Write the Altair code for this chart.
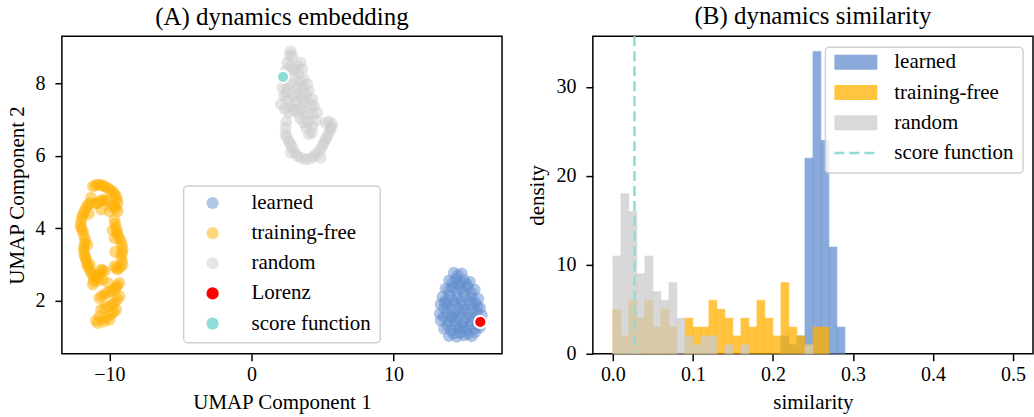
import altair as alt
import pandas as pd

FONT = "Liberation Serif"

# ---------------- (A) embedding data ----------------
learned_x = [14.24, 14.80, 13.91, 14.43, 14.97, 15.38, 13.66, 14.15, 14.70, 15.22, 15.72,
             13.44, 13.97, 14.49, 15.03, 15.51, 15.97, 13.31, 13.83, 14.38, 14.88, 15.43, 15.92,
             13.25, 13.78, 14.30, 14.85, 15.35, 15.86, 16.22, 13.32, 13.85, 14.35, 14.92, 15.43,
             15.95, 13.55, 14.06, 14.60, 15.12, 15.66, 16.08, 13.90, 14.45, 14.95, 15.50,
             14.55, 15.05, 14.10, 14.65, 13.60,
             14.52, 14.15, 14.70, 15.15, 13.90, 14.45, 14.95, 15.48, 13.70, 14.22, 14.75,
             15.28, 15.75, 13.55, 14.10, 14.62, 15.60, 16.10, 13.50, 14.05, 14.60, 15.15,
             15.68, 16.15, 13.80, 14.35, 14.90, 15.40, 15.90, 14.20, 14.70, 15.25, 15.75]
learned_y = [2.77, 2.75, 2.56, 2.60, 2.57, 2.52, 2.33, 2.37, 2.34, 2.38, 2.30,
             2.10, 2.14, 2.09, 2.13, 2.08, 2.05, 1.90, 1.87, 1.92, 1.86, 1.90, 1.84,
             1.64, 1.68, 1.63, 1.67, 1.62, 1.68, 1.60, 1.45, 1.41, 1.46, 1.40, 1.44,
             1.42, 1.22, 1.18, 1.23, 1.19, 1.21, 1.25, 1.02, 1.00, 1.03, 1.01,
             2.45, 1.75, 1.55, 1.30, 1.95,
             2.70, 2.50, 2.52, 2.45, 2.28, 2.27, 2.25, 2.22, 2.02, 2.00, 1.98,
             1.99, 1.95, 1.78, 1.78, 1.76, 1.76, 1.80, 1.55, 1.52, 1.55, 1.52,
             1.52, 1.45, 1.30, 1.30, 1.28, 1.30, 1.32, 1.08, 1.10, 1.08, 1.12]

tf_x = [-11.17, -10.82, -10.47, -10.12, -9.77, -9.53, -9.42, -9.65, -10.12, -10.47, -10.82,
        -10.59, -10.00, -9.42, -11.53, -11.76, -11.95, -12.04, -11.88, -11.71, -11.76, -11.64,
        -11.53, -11.29, -11.06, -11.17, -9.65, -9.53, -9.42, -9.65, -9.18, -9.07, -9.18, -9.07,
        -9.42, -9.65, -10.59, -10.35, -10.82, -10.12, -9.30, -9.53, -9.89, -10.35, -10.71,
        -9.30, -9.65, -10.12, -9.53, -10.59, -9.89, -10.82, -10.00, -11.81,
        -10.99, -10.65, -10.30, -9.95, -9.65, -9.48, -9.55, -10.30, -10.65, -11.00, -11.35,
        -11.65, -11.86, -12.00, -11.96, -11.80, -11.74, -11.80, -11.70, -11.60, -11.41,
        -11.17, -11.10, -9.59, -9.47, -9.30, -9.12, -9.12, -9.12, -9.25, -9.53, -10.47,
        -10.70, -10.50, -9.45, -9.70, -10.10, -10.55, -9.45, -9.85, -10.35, -9.70, -10.70,
        -10.25, -10.95, -10.40,
        -11.45, -11.55, -11.40, -9.85, -9.78, -9.60, -10.85, -11.30]
tf_y = [5.16, 5.21, 5.18, 5.11, 5.02, 4.88, 4.70, 4.61, 4.75, 4.79, 4.70,
        4.52, 4.47, 4.47, 4.65, 4.47, 4.29, 4.06, 3.92, 3.69, 3.27, 3.13,
        2.95, 2.77, 2.63, 2.44, 4.24, 4.01, 3.83, 3.73, 3.64, 3.41, 3.22, 2.99,
        2.86, 2.95, 2.86, 2.81, 2.67, 2.49, 2.49, 2.35, 2.26, 2.17, 2.07,
        2.12, 1.94, 1.84, 1.75, 1.75, 1.61, 1.38, 1.47, 3.46,
        5.19, 5.20, 5.15, 5.06, 4.95, 4.79, 4.55, 4.77, 4.75, 4.68, 4.70,
        4.56, 4.38, 4.18, 3.99, 3.80, 3.57, 3.37, 3.20, 3.04, 2.86,
        2.70, 2.53, 4.13, 3.92, 3.73, 3.52, 3.31, 3.10, 2.92, 2.90, 2.83,
        2.74, 2.58, 2.42, 2.30, 2.22, 2.12, 2.03, 1.89, 1.80, 1.68, 1.56,
        1.52, 1.45, 1.42,
        4.40, 3.55, 3.00, 4.60, 3.95, 3.35, 2.55, 4.85]

rnd_x = [2.76, 2.88, 2.53, 3.46, 3.58, 3.00, 2.41, 3.00, 3.70, 3.93, 2.53, 3.23, 4.05,
         2.29, 3.00, 3.58, 4.28, 2.06, 2.76, 3.46, 4.17, 4.64, 3.93, 3.23, 2.64, 3.70,
         4.28, 4.05, 2.41, 2.41, 2.64, 2.88, 3.23, 3.82, 4.40, 4.87, 5.10, 5.34, 5.57,
         5.69, 5.22, 2.29, 2.17, 4.87, 2.76,
         2.70, 3.20, 2.75, 3.30, 3.45, 2.80, 3.60, 2.45, 3.25, 3.85, 2.55, 3.10, 3.70,
         4.40, 2.35, 2.95, 3.55, 4.30, 3.40, 3.95, 4.55, 2.45, 4.25, 2.50, 2.75, 3.05,
         3.50, 4.15, 4.62, 5.00, 5.22, 5.45, 5.60, 5.45, 3.85]
rnd_y = [8.90, 8.76, 8.58, 8.58, 8.40, 8.40, 8.35, 8.17, 8.12, 7.98, 7.89, 7.89, 7.80,
         7.66, 7.66, 7.61, 7.57, 7.43, 7.38, 7.38, 7.43, 7.20, 7.15, 7.20, 7.20, 6.92,
         6.83, 6.60, 6.78, 6.60, 6.41, 6.23, 6.00, 5.91, 6.00, 6.18, 6.37, 6.55, 6.74,
         6.88, 6.92, 8.12, 7.89, 5.95, 6.09,
         8.80, 8.50, 8.48, 8.28, 8.05, 8.00, 7.92, 7.75, 7.72, 7.70, 7.55, 7.50, 7.48,
         7.38, 7.30, 7.28, 7.25, 7.15, 7.05, 6.95, 6.98, 6.95, 6.65, 6.50, 6.32, 6.10,
         5.95, 5.93, 6.08, 6.28, 6.46, 6.65, 6.80, 6.95, 6.78]

lorenz_xy = [16.11, 1.41]
score_xy = [2.22, 8.19]

groups = ["learned", "training-free", "random", "Lorenz", "score function"]
colors = ["#628ECE", "#FFB000", "#CCCCCC", "#FF0000", "#8FDCD9"]

# ---------------- (B) similarity histogram data ----------------
bin_edges = [0.00, 0.01, 0.02, 0.03, 0.04, 0.05, 0.06, 0.07, 0.08, 0.09, 0.10,
             0.11, 0.12, 0.13, 0.14, 0.15, 0.16, 0.17, 0.18, 0.19, 0.20,
             0.21, 0.22, 0.23, 0.24, 0.25, 0.26, 0.27, 0.28, 0.29]
learned_density = [0, 0, 0, 0, 0, 0, 0, 0, 0, 0, 0, 0, 0, 0, 0, 0, 0, 0, 0, 0,
                   0, 2, 1, 2, 22, 34, 24, 12, 3]
tf_density = [5, 2, 6, 4, 6, 3, 5, 3, 0, 4, 3, 3, 6, 5, 4, 2, 4, 3, 6, 4,
              2, 8, 3, 2, 1, 3, 3, 0, 0]
random_density = [11, 18, 16, 9, 11, 7, 6, 8, 4, 2, 1, 2, 2, 0, 1, 0, 1, 0, 0, 0,
                  0, 0, 0, 0, 1, 0, 0, 0, 0]
score_similarity = [0.027]

hist_series = ["learned", "training-free", "random"]
hist_colors = ["#628ECE", "#FFB000", "#CCCCCC"]

# ---------------- build tables ----------------
emb = pd.DataFrame({
    "x": learned_x + tf_x + rnd_x,
    "y": learned_y + tf_y + rnd_y,
    "group": ["learned"] * len(learned_x) + ["training-free"] * len(tf_x) + ["random"] * len(rnd_x),
})
special = pd.DataFrame({
    "x": [lorenz_xy[0], score_xy[0]],
    "y": [lorenz_xy[1], score_xy[1]],
    "group": ["Lorenz", "score function"],
})


def hist_table(name, dens):
    rows = []
    for a, b, d in zip(bin_edges[:-1], bin_edges[1:], dens):
        if d > 0:
            rows.append({"start": a, "end": b, "density": d, "series": name})
    return pd.DataFrame(rows)


W, H = 441, 318
AX = dict(labelFont=FONT, titleFont=FONT, labelFontSize=20, titleFontSize=21,
          titleFontWeight="normal", labelColor="black", titleColor="black",
          tickColor="black", tickSize=7, tickWidth=1.5, domain=False, grid=False)

xA = alt.X("x:Q", scale=alt.Scale(domain=[-13.35, 17.64], nice=False, zero=False),
           axis=alt.Axis(values=[-10, 0, 10], format="d", title="UMAP Component 1",
                         labelPadding=4, titlePadding=7, **AX))
yA = alt.Y("y:Q", scale=alt.Scale(domain=[0.53, 9.31], nice=False, zero=False),
           axis=alt.Axis(values=[2, 4, 6, 8], format="d", title="UMAP Component 2",
                         labelPadding=10, titlePadding=7, **AX))
colA = alt.Color("group:N", scale=alt.Scale(domain=groups, range=colors), legend=None)

scatter = alt.Chart(emb).mark_circle(size=140, opacity=0.5).encode(x=xA, y=yA, color=colA)
spec_pts = alt.Chart(special).mark_circle(size=150, opacity=1, stroke="white", strokeWidth=2).encode(
    x=xA, y=yA, color=colA)

# legend A (drawn as marks)
legA = [alt.Chart(pd.DataFrame({"a": [0]})).mark_rect(
    fill="white", fillOpacity=0.8, stroke="#d0d0d0", strokeWidth=1.5, cornerRadius=4
).encode(x=alt.value(122), x2=alt.value(319), y=alt.value(150), y2=alt.value(307))]
for i, (g, c) in enumerate(zip(groups, colors)):
    row = pd.DataFrame({"label": [g]})
    yy = 167 + i * 30.2
    legA.append(alt.Chart(row).mark_circle(size=150, color=c, opacity=0.5 if i < 3 else 1).encode(
        x=alt.value(151), y=alt.value(yy)))
    legA.append(alt.Chart(row).mark_text(align="left", baseline="middle", font=FONT, fontSize=21,
                                         color="black").encode(
        x=alt.value(190), y=alt.value(yy), text="label:N"))

panelA = alt.layer(scatter, spec_pts, *legA).properties(
    width=W, height=H,
    title=alt.TitleParams("(A) dynamics embedding", font=FONT, fontSize=25, fontWeight="normal",
                          anchor="middle", frame="group", offset=6, color="black"))

# ---------------- panel B ----------------
xB = alt.X("start:Q", scale=alt.Scale(domain=[-0.025, 0.525], nice=False, zero=False),
           axis=alt.Axis(values=[0, 0.1, 0.2, 0.3, 0.4, 0.5], format=".1f", title="similarity",
                         labelPadding=4, titlePadding=7, **AX))
yB = alt.Y("density:Q", scale=alt.Scale(domain=[0, 35.7], nice=False),
           axis=alt.Axis(values=[0, 10, 20, 30], format="d", title="density",
                         labelPadding=10, titlePadding=8, **AX))

bars = []
for name, dens, c in zip(hist_series, [learned_density, tf_density, random_density], hist_colors):
    bars.append(alt.Chart(hist_table(name, dens)).mark_bar(
        color=c, opacity=0.75, stroke=c, strokeWidth=0.6).encode(
        x=xB, x2="end:Q", y=yB, y2=alt.datum(0)))

vline = alt.Chart(pd.DataFrame({"start": score_similarity})).mark_rule(
    color="#8FDCD9", strokeDash=[10, 5], strokeWidth=2.5).encode(x=xB)

legB = [alt.Chart(pd.DataFrame({"a": [0]})).mark_rect(
    fill="white", fillOpacity=0.8, stroke="#d0d0d0", strokeWidth=1.5, cornerRadius=4
).encode(x=alt.value(233), x2=alt.value(431), y=alt.value(11), y2=alt.value(137))]
labelsB = hist_series + ["score function"]
for i, lab in enumerate(labelsB):
    row = pd.DataFrame({"label": [lab]})
    yy = 26 + i * 30.3
    if i < 3:
        legB.append(alt.Chart(row).mark_rect(color=hist_colors[i], opacity=0.75).encode(
            x=alt.value(242), x2=alt.value(285), y=alt.value(yy - 7.5), y2=alt.value(yy + 7.5)))
    else:
        legB.append(alt.Chart(row).mark_rule(color="#8FDCD9", strokeDash=[10, 5], strokeWidth=2.5).encode(
            x=alt.value(242), x2=alt.value(285), y=alt.value(yy)))
    legB.append(alt.Chart(row).mark_text(align="left", baseline="middle", font=FONT, fontSize=21,
                                         color="black").encode(
        x=alt.value(302), y=alt.value(yy), text="label:N"))

panelB = alt.layer(*bars, vline, *legB).properties(
    width=W, height=H,
    title=alt.TitleParams("(B) dynamics similarity", font=FONT, fontSize=25, fontWeight="normal",
                          anchor="middle", frame="group", offset=6, color="black"))

chart = alt.hconcat(panelA, panelB, spacing=23).properties(
    padding={"left": 6, "top": 3, "right": 0, "bottom": 0}
).configure(
    font=FONT,
    style={"guide-label": {"font": FONT}, "guide-title": {"font": FONT}}
).configure_view(
    stroke="black", strokeWidth=1.5
).configure_axis(
    labelFont=FONT, titleFont=FONT
)

chart.save("out.html", embed_options={"renderer": "svg", "actions": False})
